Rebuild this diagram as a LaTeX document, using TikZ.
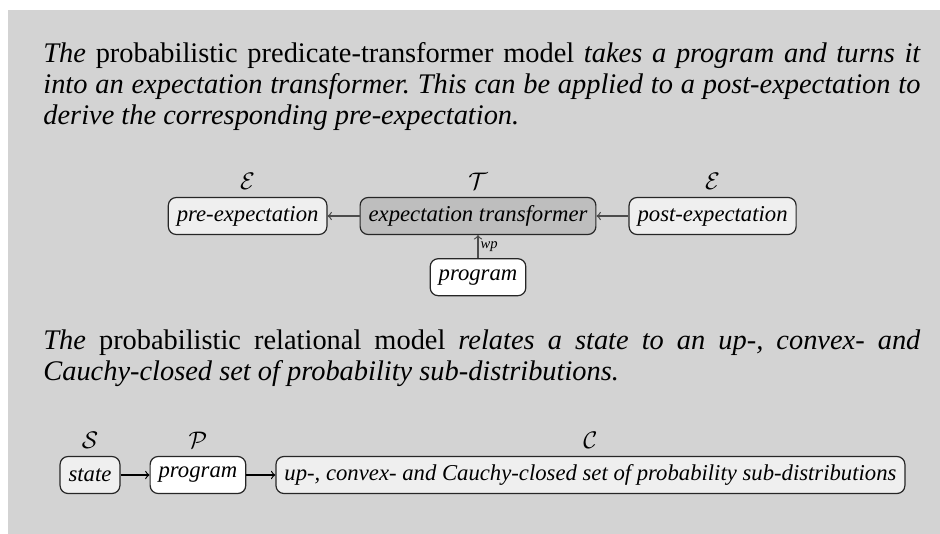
\documentclass[tikz,border=0pt]{standalone}
\usepackage{fontspec}
\setmainfont{Liberation Serif}
\usetikzlibrary{positioning, arrows}
\definecolor{bggray}{HTML}{D3D3D3}
\definecolor{lightbox}{HTML}{EFEFEF}
\definecolor{darkbox}{HTML}{BEBEBE}
\tikzset{node distance=16pt, % Gap between two boxes of the first diagram
model/.style={ % Sets the properties for each box
draw=black!85, semithick,
rounded corners=4pt,
inner xsep=4.25pt,
minimum height=18.5pt,
font=\fontsize{11.35}{13}\selectfont\itshape},
prose/.style={ % The explaining paragraphs
text width=438.5pt, align=justify, inner sep=0pt,
font=\fontsize{14.2}{15.5}\selectfont\frenchspacing},
every label/.style={font=\fontsize{12}{14}\selectfont}, % Script letters above the boxes
every edge/.style={ % Sets the properties for each connector
draw,->,>=to,
semithick}}

\begin{document}
\begin{tikzpicture}

    \useasboundingbox (0,0) rectangle (470pt,-267pt);
    \fill[bggray] (4pt,-5pt) rectangle (470pt,-267pt);

    \node[prose, anchor=base west] (wptext) at (21.5pt,-31.5pt)
        {\itshape The \textup{probabilistic predicate-transformer model} takes a program and turns it\linebreak
        into an expectation transformer. This can be applied to a post-expectation to\linebreak
        derive the corresponding pre-expectation.};

    \node[model, fill=darkbox, label=above:$\mathcal{T}$] (trans) at (239pt,-108pt) {expectation transformer};
    \node[model, fill=lightbox, left=of trans, label=above:$\mathcal{E}$] (pre) {pre-expectation};
    \node[model, fill=lightbox, right=of trans, label=above:$\mathcal{E}$] (post) {post-expectation};
    \node[model, fill=white, below=11.5pt of trans] (prog) {program};

    \draw[black!70] (trans) edge (pre);
    \draw[black!70] (post) edge (trans);
    \draw[black!70] (prog) edge node[right, black, font=\fontsize{7.3}{8}\selectfont\itshape, inner sep=1pt] {wp} (trans);

    \node[prose, anchor=base west] (reltext) at (21.5pt,-174.5pt)
        {\itshape The \textup{probabilistic relational model} relates a state to an up-, convex- and\linebreak
        Cauchy-closed set of probability sub-distributions.};

    \node[model, fill=lightbox, label=above:$\mathcal{S}$] (state) at (45pt,-237.5pt) {state};
    \node[model, fill=white, right=14.5pt of state, label=above:$\mathcal{P}$] (relprog) {program};
    \node[model, fill=lightbox, right=14.5pt of relprog, label=above:$\mathcal{C}$] (dists) {up-, convex- and Cauchy-closed set of probability sub-distributions};

    \draw (state) edge (relprog);
    \draw (relprog) edge (dists);

\end{tikzpicture}
\end{document}
